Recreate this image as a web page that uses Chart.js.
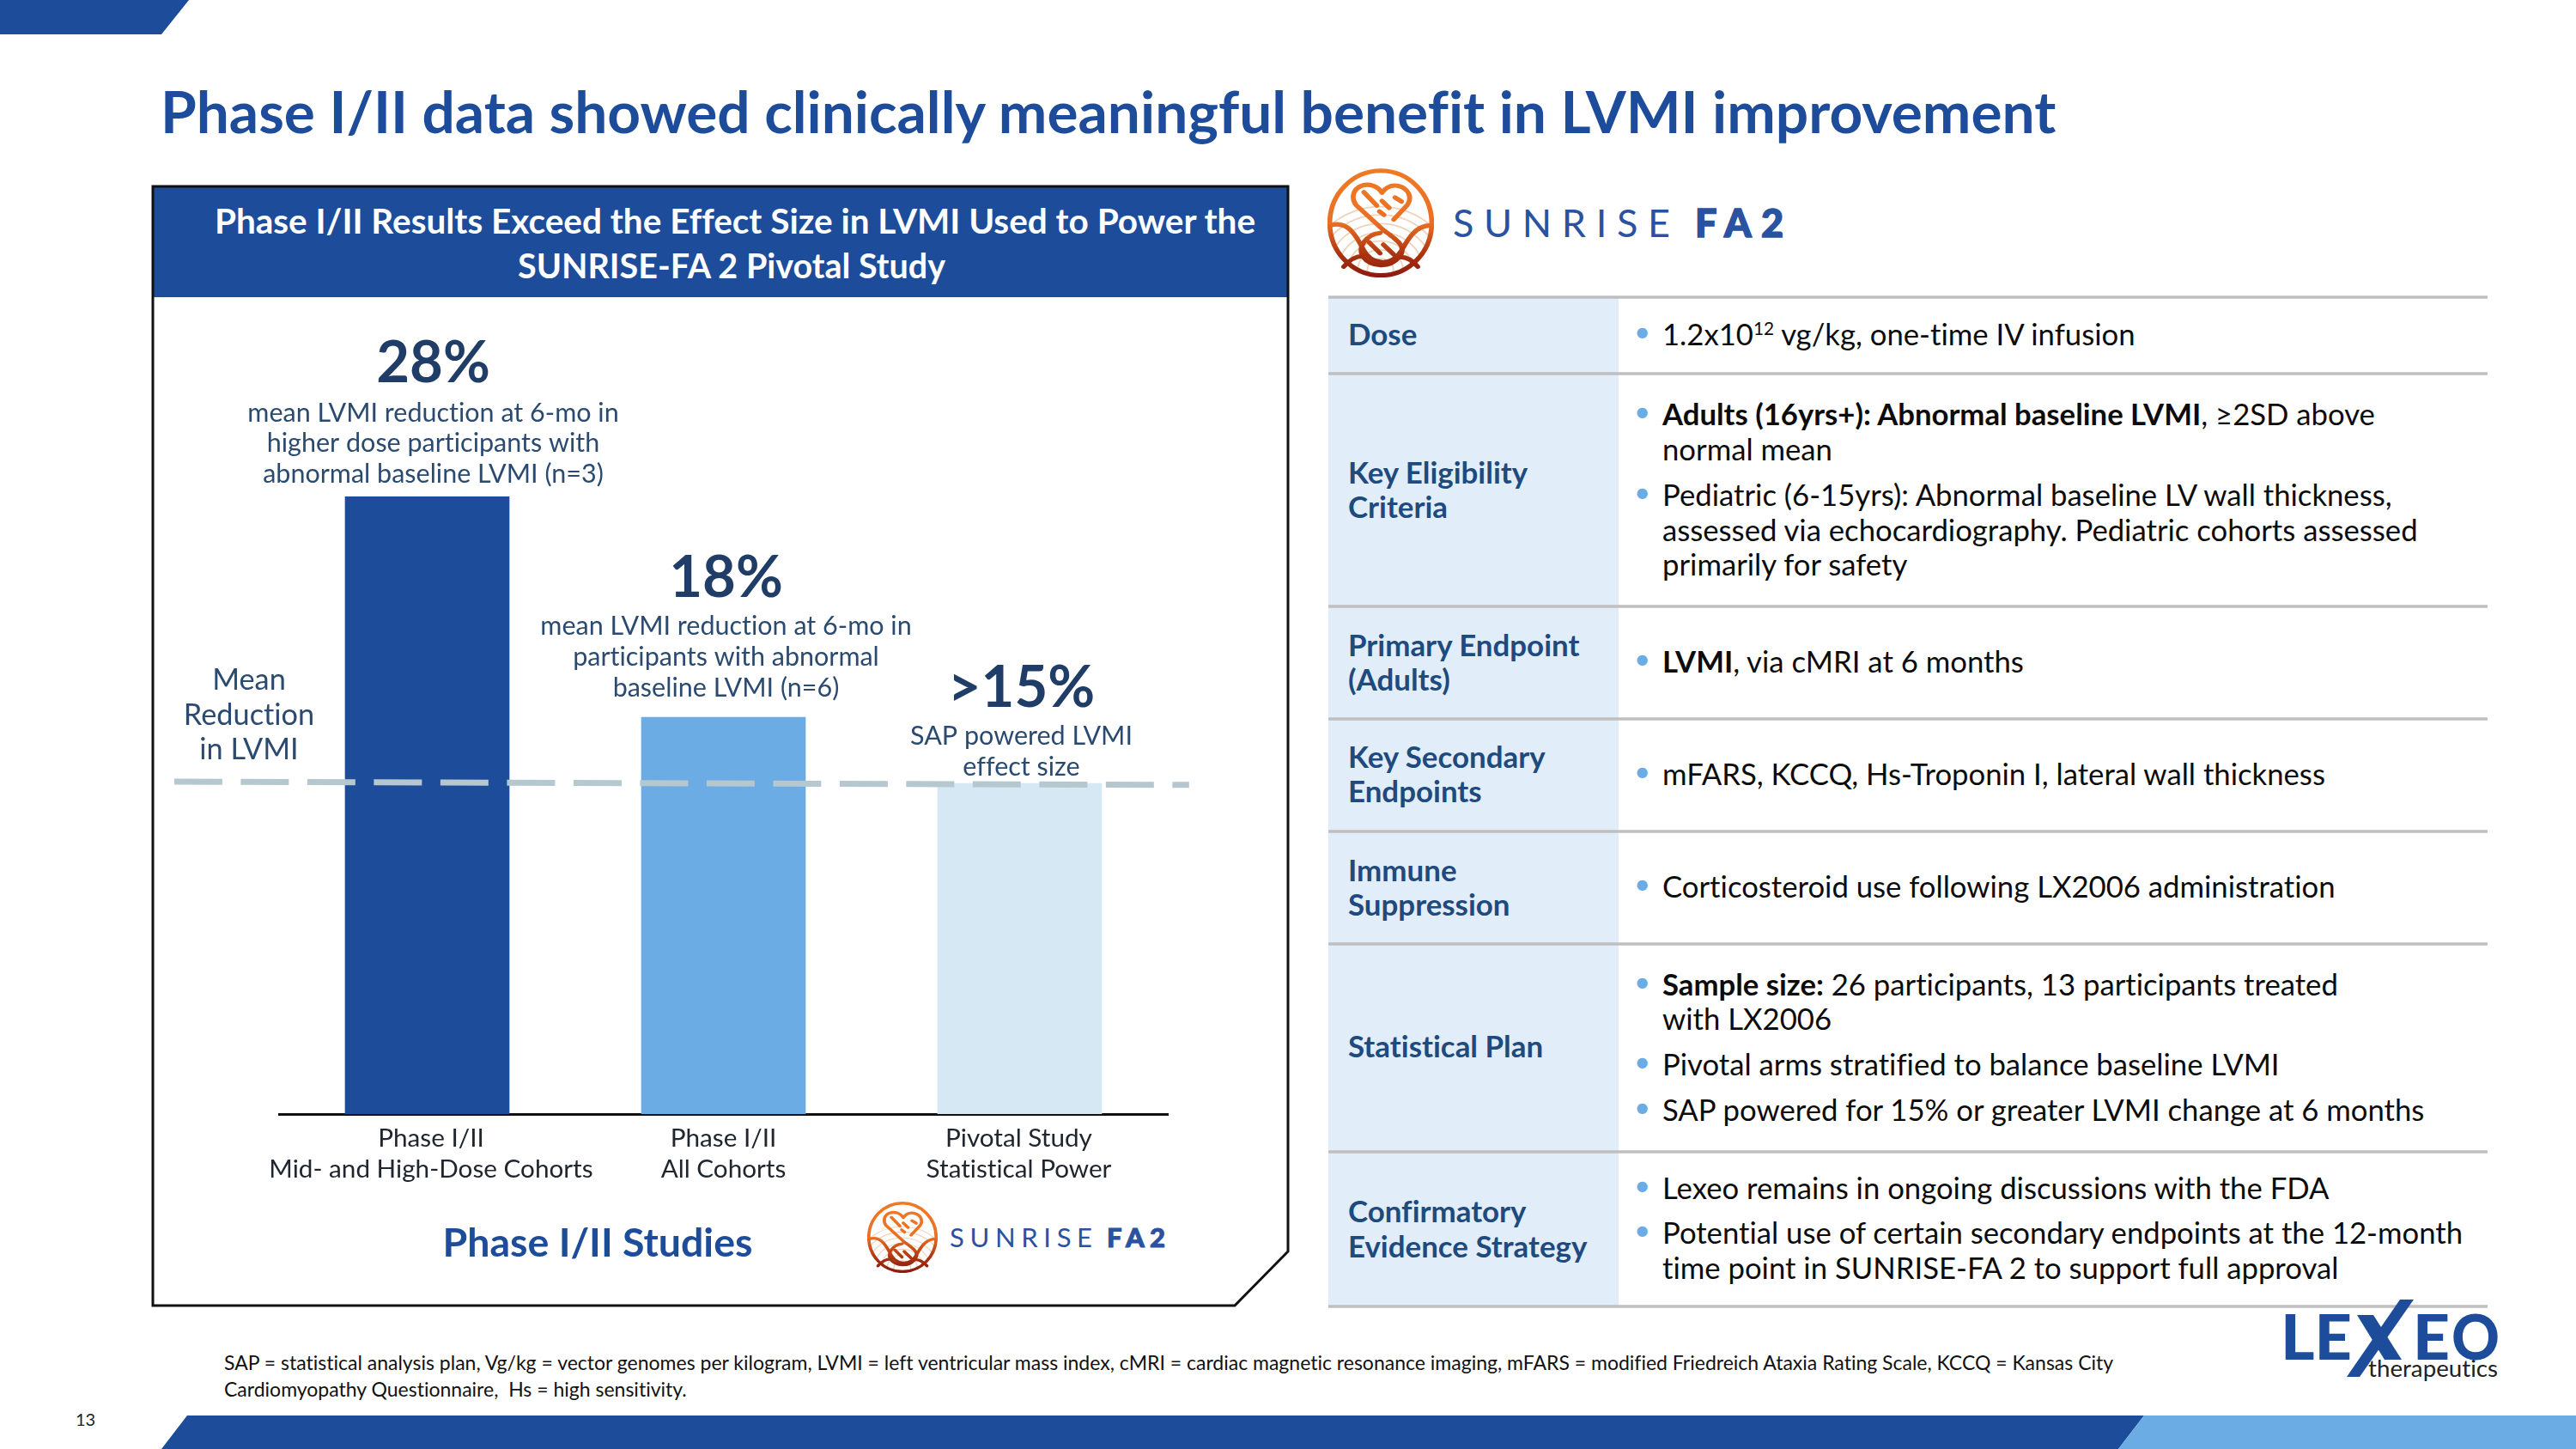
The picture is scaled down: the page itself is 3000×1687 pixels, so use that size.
<!DOCTYPE html>
<html lang="en">
<head>
<meta charset="utf-8">
<title>Phase I/II data showed clinically meaningful benefit in LVMI improvement</title>
<script src="https://cdn.jsdelivr.net/npm/chart.js@4/dist/chart.umd.min.js"></script>
<style>
  html, body { margin: 0; padding: 0; background: #fff; }
  #slide { position: relative; width: 3000px; height: 1687px; overflow: hidden; background: #fff; font-family: Lato, "Open Sans", sans-serif; font-variant-ligatures: none; }
  #slide > svg.bg { position: absolute; left: 0; top: 0; }
  #chart { position: absolute; left: 180px; top: 360px; font-variant-ligatures: none; }
  .t { position: absolute; white-space: nowrap; line-height: 1; transform: translateY(-50%); }
  .t.c { transform: translate(-50%, -50%); }
  .t b { font-weight: 700; }
  .t sup { font-size: 60%; line-height: 0; vertical-align: baseline; position: relative; top: -0.6em; }
</style>
</head>
<body>
<div id="slide">
  <svg class="bg" width="3000" height="1687" viewBox="0 0 3000 1687">
    <defs>
      <linearGradient id="sunGrad" gradientUnits="userSpaceOnUse" x1="0" y1="50" x2="0" y2="425">
        <stop offset="0" stop-color="#ef7b25"/>
        <stop offset="0.5" stop-color="#ea6f24"/>
        <stop offset="0.8" stop-color="#a8310f"/>
        <stop offset="1" stop-color="#8a1a0e"/>
      </linearGradient>
      <clipPath id="sunClip"><ellipse cx="206" cy="238" rx="158" ry="182"/></clipPath>
      <symbol id="sunMark" viewBox="42 50 328 375" preserveAspectRatio="none">
        <g clip-path="url(#sunClip)" fill="none" stroke="#efd3ba" stroke-width="5">
          <circle cx="205" cy="400" r="40"/><circle cx="205" cy="400" r="70"/>
          <circle cx="205" cy="400" r="100"/><circle cx="205" cy="400" r="130"/>
          <circle cx="205" cy="400" r="160"/><circle cx="205" cy="400" r="190"/>
          <circle cx="205" cy="400" r="218"/>
        </g>
        <g fill="none" stroke="url(#sunGrad)" stroke-width="15" stroke-linecap="round" stroke-linejoin="round">
          <ellipse cx="206" cy="238" rx="157" ry="180"/>
          <path d="M246 226 L288 176 C304 150 292 118 258 110 C236 106 220 118 210 134 C198 112 172 100 146 110 C120 122 114 152 130 176 L214 262 C262 300 288 322 262 356 C236 392 176 392 150 352 C136 322 158 278 204 272"/>
          <path d="M52 246 C104 228 130 280 154 332 C176 378 236 392 268 336 C290 292 312 248 358 246"/>
          <path d="M92 388 C112 362 132 352 150 352 M320 388 C300 362 282 352 262 356"/>
          <path d="M154 132 L194 178 M210 162 L232 186 M250 150 L270 164 M202 198 L216 210 M170 304 L204 342 M214 312 L246 346"/>
        </g>
      </symbol>
    </defs>

    <!-- corner tab and footer band -->
    <polygon points="0,0 220,0 188,40 0,40" fill="#1c4c9a"/>
    <polygon points="218,1648 2497,1648 2467,1687 188,1687" fill="#1c4c9a"/>
    <polygon points="2497,1648 3000,1648 3000,1687 2467,1687" fill="#6cace4"/>

    <!-- chart panel -->
    <rect x="178" y="217" width="1322" height="129" fill="#1c4c9a"/>
    <path d="M178 217 H1500 V1457 L1438 1520 H178 Z" fill="none" stroke="#111" stroke-width="3"/>

    <!-- study design table: label column fills and rules -->
    <rect x="1547" y="346" width="338" height="1175" fill="#e1edf8"/>
    <g stroke="#bfbfbf" stroke-width="3.5">
      <line x1="1547" x2="2897" y1="346" y2="346"/><line x1="1547" x2="2897" y1="435" y2="435"/>
      <line x1="1547" x2="2897" y1="706" y2="706"/><line x1="1547" x2="2897" y1="837" y2="837"/>
      <line x1="1547" x2="2897" y1="968" y2="968"/><line x1="1547" x2="2897" y1="1099" y2="1099"/>
      <line x1="1547" x2="2897" y1="1341" y2="1341"/><line x1="1547" x2="2897" y1="1521" y2="1521"/>
    </g>

    <!-- SUNRISE FA2 marks -->
    <use href="#sunMark" x="1546" y="196" width="124" height="127"/>
    <text x="1692" y="276" font-family="Lato" font-size="45" textLength="253" lengthAdjust="spacing" fill="#2a52a0">SUNRISE</text>
    <text x="1974" y="276" font-family="Lato" font-weight="900" font-size="45" letter-spacing="5" textLength="108" lengthAdjust="spacing" stroke="#2a52a0" stroke-width="1.5" fill="#2a52a0">FA2</text>
    <use href="#sunMark" x="1010" y="1399" width="82" height="83"/>
    <text x="1106" y="1452" font-family="Lato" font-size="31" textLength="166" lengthAdjust="spacing" fill="#2a52a0">SUNRISE</text>
    <text x="1289" y="1452" font-family="Lato" font-weight="900" font-size="31" letter-spacing="3" textLength="71" lengthAdjust="spacing" stroke="#2a52a0" stroke-width="1" fill="#2a52a0">FA2</text>

    <!-- LEXEO mark -->
    <text x="2656" y="1583" font-family="Lato" font-weight="900" font-size="73" textLength="83" lengthAdjust="spacingAndGlyphs" fill="#1c4c9a">LE</text>
    <text x="2810" y="1583" font-family="Lato" font-weight="900" font-size="73" textLength="43" lengthAdjust="spacingAndGlyphs" fill="#1c4c9a">E</text>
    <text x="2855" y="1583" font-family="Lato" font-weight="900" font-size="73" textLength="56" lengthAdjust="spacingAndGlyphs" fill="#1c4c9a">O</text>
    <polygon points="2745,1531 2764,1531 2797,1583 2777,1583" fill="#1c4c9a"/>
    <polygon points="2795,1513 2811,1513 2748,1603 2733,1603" fill="#1c4c9a"/>
    <text x="2758" y="1603" font-family="Lato" font-size="27" textLength="151" lengthAdjust="spacingAndGlyphs" fill="#222">therapeutics</text>
  </svg>

  <canvas id="chart" width="1320" height="1120"></canvas>
  <div id="texts"></div>
</div>

<script>
// Bar values, tick labels and callouts for the LVMI comparison
const categories = [
  ["Phase I/II", "Mid- and High-Dose Cohorts"],
  ["Phase I/II", "All Cohorts"],
  ["Pivotal Study", "Statistical Power"]
];
const barPositions = [0.5, 1.5, 2.5];
const tickPositions = [0.513, 1.5, 2.497];
const meanReduction = [28, 18, 15];
const valueLabels = ["28%", "18%", ">15%"];
const captions = [
  ["mean LVMI reduction at 6-mo in", "higher dose participants with", "abnormal baseline LVMI (n=3)"],
  ["mean LVMI reduction at 6-mo in", "participants with abnormal", "baseline LVMI (n=6)"],
  ["SAP powered LVMI", "effect size"]
];
const barColors = ["#1c4c9a", "#6cace4", "#d7e8f5"];
const effectLineX = [-0.354, 3.072];
const effectLineY = [15.08, 14.93];

// Callouts stacked above each bar, measured from the top of the bar
const calloutGap = [26, 34, 19];
const calloutShift = [7, 3, 2];
const headlineGap = [58, 56, 56];
const calloutPlugin = {
  id: "callouts",
  afterDatasetsDraw(chart) {
    const { ctx } = chart;
    const bars = chart.getDatasetMeta(0).data;
    ctx.save();
    ctx.textAlign = "center";
    ctx.textBaseline = "middle";
    bars.forEach((bar, i) => {
      const x = bar.x + calloutShift[i];
      let y = bar.y - calloutGap[i];
      ctx.fillStyle = "#2b4a70";
      ctx.font = "30.5px Lato";
      const lines = captions[i];
      for (let k = lines.length - 1; k >= 0; k--) {
        ctx.fillText(lines[k], x, y);
        if (k > 0) y -= 35.7;
      }
      ctx.fillStyle = "#1f3d66";
      ctx.font = "700 67px Lato";
      ctx.fillText(valueLabels[i], x, y - headlineGap[i]);
    });
    ctx.restore();
  }
};

new Chart(document.getElementById("chart"), {
  type: "bar",
  plugins: [calloutPlugin],
  data: {
    datasets: [
      {
        type: "bar",
        order: 2,
        data: barPositions.map((x, i) => ({ x, y: meanReduction[i] })),
        backgroundColor: barColors,
        barThickness: 191,
        xAxisID: "x",
        yAxisID: "y"
      },
      {
        type: "line",
        order: 1,
        data: effectLineX.map((x, i) => ({ x, y: effectLineY[i] })),
        borderColor: "#b5c7cf",
        borderWidth: 7,
        borderDash: [56, 21.5],
        pointRadius: 0,
        clip: false,
        xAxisID: "x",
        yAxisID: "y"
      }
    ]
  },
  options: {
    responsive: false,
    animation: false,
    layout: { padding: { left: 145, right: 140, top: 167, bottom: 103 } },
    plugins: { legend: { display: false }, tooltip: { enabled: false } },
    scales: {
      x: {
        type: "linear",
        min: 0,
        max: 3,
        offset: false,
        grid: { display: false, offset: false, drawTicks: false },
        border: { color: "#111", width: 3 },
        afterBuildTicks(scale) { scale.ticks = tickPositions.map(value => ({ value })); },
        ticks: {
          color: "#20262e",
          font: { family: "Lato", size: 29.7 },
          padding: 11,
          maxRotation: 0,
          autoSkip: false,
          callback: (value, i) => categories[i]
        },
        afterFit(scale) { scale.height = 80; }
      },
      y: { display: false, min: 0, max: 30 }
    }
  }
});

// Slide text, written as absolutely placed lines
const box = document.getElementById("texts");
function put(html, x, y, size, color, weight, centered) {
  const el = document.createElement("div");
  el.className = centered ? "t c" : "t";
  el.innerHTML = html;
  el.style.cssText = `left:${x}px;top:${y}px;font-size:${size}px;color:${color};font-weight:${weight || 400}`;
  box.appendChild(el);
}
const navy = "#1f4a7d", ink = "#2b4a70", blue = "#1c4c9a";

put("Phase I/II data showed clinically meaningful benefit in LVMI improvement", 187, 129, 67.6, blue, 700);
put("Phase I/II Results Exceed the Effect Size in LVMI Used to Power the", 856, 257, 40.5, "#fff", 700, true);
put("SUNRISE-FA 2 Pivotal Study", 852, 309, 39.5, "#fff", 700, true);
["Mean", "Reduction", "in LVMI"].forEach((s, i) => put(s, 290, 790 + i * 40.5, 34.3, ink, 400, true));
put("Phase I/II Studies", 696, 1445, 46.5, blue, 700, true);

const rowLabels = [
  ["Dose", 389], ["Key Eligibility", 550], ["Criteria", 590], ["Primary Endpoint", 751], ["(Adults)", 791],
  ["Key Secondary", 881], ["Endpoints", 921], ["Immune", 1013], ["Suppression", 1053], ["Statistical Plan", 1218],
  ["Confirmatory", 1410], ["Evidence Strategy", 1451]
];
rowLabels.forEach(([s, y]) => put(s, 1570, y, 34.9, navy, 700));

const rowText = [
  [true, "1.2x10<sup>12</sup> vg/kg, one-time IV infusion", 389],
  [true, "<b>Adults (16yrs+): Abnormal baseline LVMI</b>, ≥2SD above", 482],
  [false, "normal mean", 523],
  [true, "Pediatric (6-15yrs): Abnormal baseline LV wall thickness,", 576],
  [false, "assessed via echocardiography. Pediatric cohorts assessed", 617],
  [false, "primarily for safety", 657],
  [true, "<b>LVMI</b>, via cMRI at 6 months", 770],
  [true, "mFARS, KCCQ, Hs-Troponin I, lateral wall thickness", 901],
  [true, "Corticosteroid use following LX2006 administration", 1032],
  [true, "<b>Sample size:</b> 26 participants, 13 participants treated", 1146],
  [false, "with LX2006", 1186],
  [true, "Pivotal arms stratified to balance baseline LVMI", 1239],
  [true, "SAP powered for 15% or greater LVMI change at 6 months", 1292],
  [true, "Lexeo remains in ongoing discussions with the FDA", 1383],
  [true, "Potential use of certain secondary endpoints at the 12-month", 1435],
  [false, "time point in SUNRISE-FA 2 to support full approval", 1476]
];
rowText.forEach(([bullet, s, y]) => {
  if (bullet) put("•", 1903, y - 4, 33, "#6cace4", 400);
  put(s, 1936, y, 34.7, "#0c0c0c", 400);
});

put("SAP = statistical analysis plan, Vg/kg = vector genomes per kilogram, LVMI = left ventricular mass index, cMRI = cardiac magnetic resonance imaging, mFARS = modified Friedreich Ataxia Rating Scale, KCCQ = Kansas City", 261, 1586, 23, "#111");
put("Cardiomyopathy Questionnaire,&nbsp; Hs = high sensitivity.", 261, 1617, 23, "#111");
put("13", 88, 1652, 20, "#222");
</script>
</body>
</html>
